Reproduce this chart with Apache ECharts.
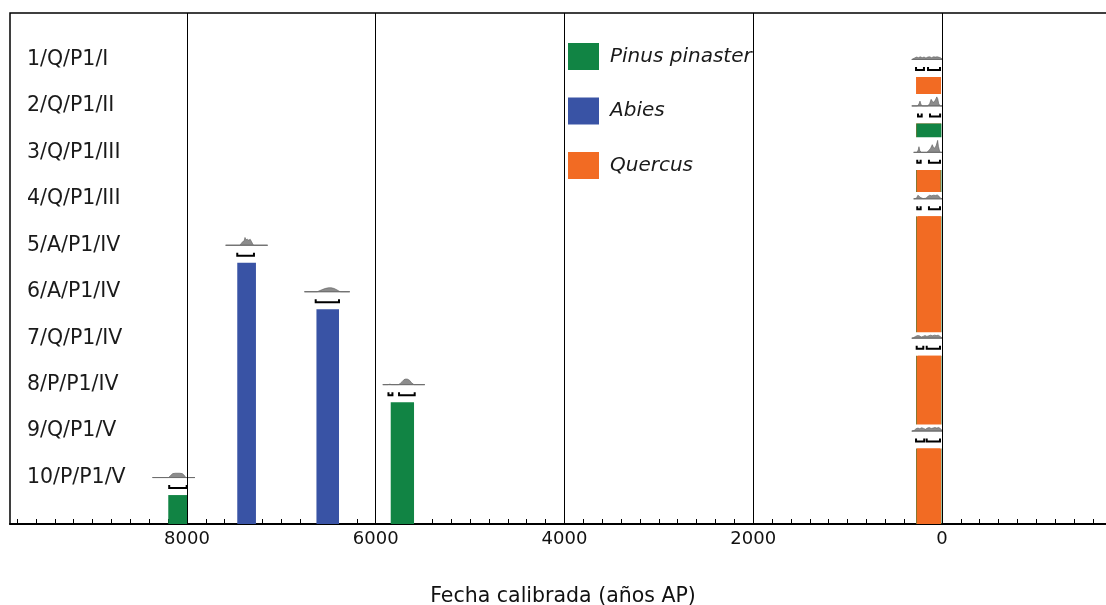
<!DOCTYPE html>
<html><head><meta charset="utf-8">
<script src="https://cdn.jsdelivr.net/npm/echarts@6/dist/echarts.min.js"></script>
<style>html,body{margin:0;padding:0;background:#fff}#c{width:1106px;height:605px}</style>
</head><body><div id="c"></div>
<script>
// ---- data ----
const sampleLabels = ['1/Q/P1/I','2/Q/P1/II','3/Q/P1/III','4/Q/P1/III','5/A/P1/IV','6/A/P1/IV','7/Q/P1/IV','8/P/P1/IV','9/Q/P1/V','10/P/P1/V'];
const sampleTaxa = ['Quercus','Pinus pinaster','Quercus','Quercus','Abies','Abies','Quercus','Pinus pinaster','Quercus','Pinus pinaster'];
// calibrated range covered by each bar (years cal BP, older -> younger)
const barRanges = [[275,10],[272,6],[268,14],[254,10],[7467,7269],[6628,6389],[254,10],[5841,5594],[265,21],[8198,7993]];
// probability ranges (brackets)
const sigmaRanges = [
  [[275,191],[148,21]],
  [[254,215],[127,20]],
  [[262,226],[138,21]],
  [[262,226],[138,21]],
  [[7467,7290]],
  [[6636,6389]],
  [[268,198],[162,21]],
  [[5865,5823],[5753,5587]],
  [[275,188],[162,21]],
  [[8188,8003]]
];
// calibrated probability distributions [year, relative probability]
const densities = [
  [[320,0],[290,0.12],[270,0.2],[250,0.15],[230,0.22],[210,0.15],[190,0.2],[170,0.12],[150,0.2],[130,0.22],[110,0.15],[90,0.22],[70,0.2],[50,0.22],[30,0.18],[10,0.12],[-5,0]],
  [[320,0],[260,0],[245,0.15],[233,0.4],[222,0.1],[205,0],[150,0],[130,0.2],[115,0.55],[100,0.35],[85,0.3],[70,0.5],[55,0.75],[45,0.6],[35,0.2],[20,0],[-5,0]],
  [[300,0],[265,0],[252,0.2],[244,0.47],[235,0.15],[220,0],[160,0],[140,0.15],[120,0.35],[103,0.64],[90,0.4],[75,0.35],[60,0.6],[46,1.0],[38,0.5],[25,0.1],[15,0],[-5,0]],
  [[300,0],[270,0.05],[255,0.3],[240,0.2],[225,0.1],[200,0.02],[170,0.05],[150,0.2],[130,0.3],[110,0.25],[90,0.3],[70,0.28],[50,0.32],[30,0.2],[15,0.05],[-5,0]],
  [[7590,0],[7440,0],[7425,0.15],[7410,0.3],[7395,0.35],[7385,0.65],[7375,0.45],[7360,0.5],[7345,0.42],[7330,0.5],[7315,0.3],[7300,0.05],[7290,0],[7145,0]],
  [[6755,0],[6620,0],[6590,0.1],[6560,0.2],[6530,0.28],[6500,0.33],[6470,0.33],[6440,0.27],[6410,0.15],[6385,0.03],[6370,0],[6275,0]],
  [[320,0],[300,0.05],[280,0.15],[260,0.22],[240,0.2],[220,0.1],[200,0.15],[180,0.22],[160,0.15],[140,0.2],[120,0.25],[100,0.2],[80,0.25],[60,0.22],[40,0.25],[20,0.15],[-5,0]],
  [[5925,0],[5870,0],[5850,0.04],[5830,0],[5760,0],[5740,0.1],[5720,0.25],[5700,0.42],[5680,0.47],[5660,0.45],[5640,0.35],[5620,0.15],[5600,0.03],[5590,0],[5480,0]],
  [[320,0],[295,0.05],[275,0.2],[255,0.25],[235,0.2],[215,0.28],[195,0.22],[175,0.15],[155,0.25],[135,0.3],[115,0.22],[95,0.25],[75,0.3],[55,0.25],[35,0.3],[15,0.2],[-5,0]],
  [[8365,0],[8195,0],[8170,0.2],[8150,0.33],[8120,0.36],[8080,0.36],[8050,0.33],[8030,0.2],[8012,0],[7915,0]]
];
const taxa = ['Pinus pinaster','Abies','Quercus'];
const majorTickValues = [8000,6000,4000,2000,0];
const axisTitle = 'Fecha calibrada (años AP)';

// ---- styling ----
const taxonColors = {'Pinus pinaster':'#118444','Abies':'#3953a5','Quercus':'#f26b23'};
const FONT = 'DejaVu Sans';
const HUMP_PX = 12;
const minorTickValues = [];
for (let v = -1600; v <= 9800; v += 200) minorTickValues.push(v);

const chart = echarts.init(document.getElementById('c'), null, {renderer:'canvas'});

function renderItem(params, api) {
  const i = params.dataIndex;
  const row = i + 1;
  const color = taxonColors[sampleTaxa[i]];
  const by = api.coord([0, row])[1];
  const unit = api.size([0, 1])[1];
  const d = densities[i];
  let maxV = 0;
  d.forEach(p => { if (p[1] > maxV) maxV = p[1]; });
  const br = barRanges[i];
  const bx1 = api.coord([br[0], row])[0];
  const bx2 = api.coord([br[1], row])[0];
  const barTop = by + unit * 0.377;
  const barBottom = api.coord([0, 11])[1];
  const pts = d.map(p => [api.coord([p[0], row])[0], by - p[1]*HUMP_PX]);
  const xs = pts.map(p => p[0]).concat([bx1, bx2]);
  const wl = Math.min.apply(null, xs) - 1, wr = Math.max.apply(null, xs) + 1;
  const children = [];
  const wTop = by - maxV * HUMP_PX - 3;
  children.push({type:'rect', shape:{x:wl, y:wTop, width:wr-wl, height:barTop-wTop}, style:{fill:'#fff'}, z2: i*10});
  children.push({type:'rect', shape:{x:Math.min(bx1,bx2), y:barTop, width:Math.abs(bx2-bx1), height:barBottom-barTop}, style:{fill:color}, z2: i*10+1});
  children.push({type:'polygon', shape:{points:pts}, style:{fill:'#8c8c8c', stroke:'#5a5a5a', lineWidth:0.6}, z2: i*10+2});
  children.push({type:'line', shape:{x1:pts[0][0], y1:by, x2:pts[pts.length-1][0], y2:by}, style:{stroke:'#6e6e6e', lineWidth:1}, z2: i*10+3});
  const bky = by + unit * 0.226;
  sigmaRanges[i].forEach(r => {
    const x1 = api.coord([r[0], row])[0];
    const x2 = api.coord([r[1], row])[0];
    children.push({type:'polyline', shape:{points:[[x1,bky-3],[x1,bky],[x2,bky],[x2,bky-3]]}, style:{stroke:'#000', lineWidth:2, fill:null}, z2: i*10+4});
  });
  return {type:'group', children};
}

const series = [{
  name:'samples', type:'custom', renderItem,
  data: sampleLabels.map((l, i) => [barRanges[i][0], i + 1]),
  encode:{x:0, y:1}, clip:false, silent:true,
  markLine:{silent:true, symbol:'none', label:{show:false},
    lineStyle:{color:'#000', width:1, type:'solid'},
    data: majorTickValues.map(v => ({xAxis:v}))}
}];
taxa.forEach(t => series.push({name:t, type:'bar', data:[], itemStyle:{color:taxonColors[t]}}));

chart.setOption({
  animation:false,
  backgroundColor:'#fff',
  grid:{left:10, right:-2, top:13, height:511, outerBoundsMode:'none', containLabel:false,
    show:true, borderColor:'#000', borderWidth:1.5},
  legend:{data:taxa, orient:'vertical', left:568, top:43, itemWidth:31, itemHeight:27, itemGap:27.5, icon:'rect', padding:0,
    textStyle:{fontFamily:FONT, fontSize:20, fontStyle:'italic', color:'#1a1a1a', padding:[0,0,0,6]}},
  xAxis:{type:'value', inverse:true, min:-1759, max:9875,
    name:axisTitle, nameLocation:'middle', nameGap:62,
    nameTextStyle:{fontFamily:FONT, fontSize:20.5, color:'#111', padding:[0,0,0,8]},
    axisLine:{show:true, onZero:false, lineStyle:{color:'#000', width:2}},
    axisTick:{show:true, inside:true, length:5, customValues:minorTickValues, lineStyle:{color:'#000', width:1}},
    axisLabel:{show:true, customValues:majorTickValues, margin:6, fontFamily:FONT, fontSize:18, color:'#111',
      formatter: v => String(v)},
    splitLine:{show:false}},
  yAxis:{type:'value', inverse:true, min:0, max:11, interval:1,
    axisLine:{show:false}, axisTick:{show:false}, splitLine:{show:false},
    axisLabel:{inside:true, margin:17, fontFamily:FONT, fontSize:20.5, color:'#1a1a1a',
      formatter: v => sampleLabels[v-1] || ''}},
  series
});
</script></body></html>
